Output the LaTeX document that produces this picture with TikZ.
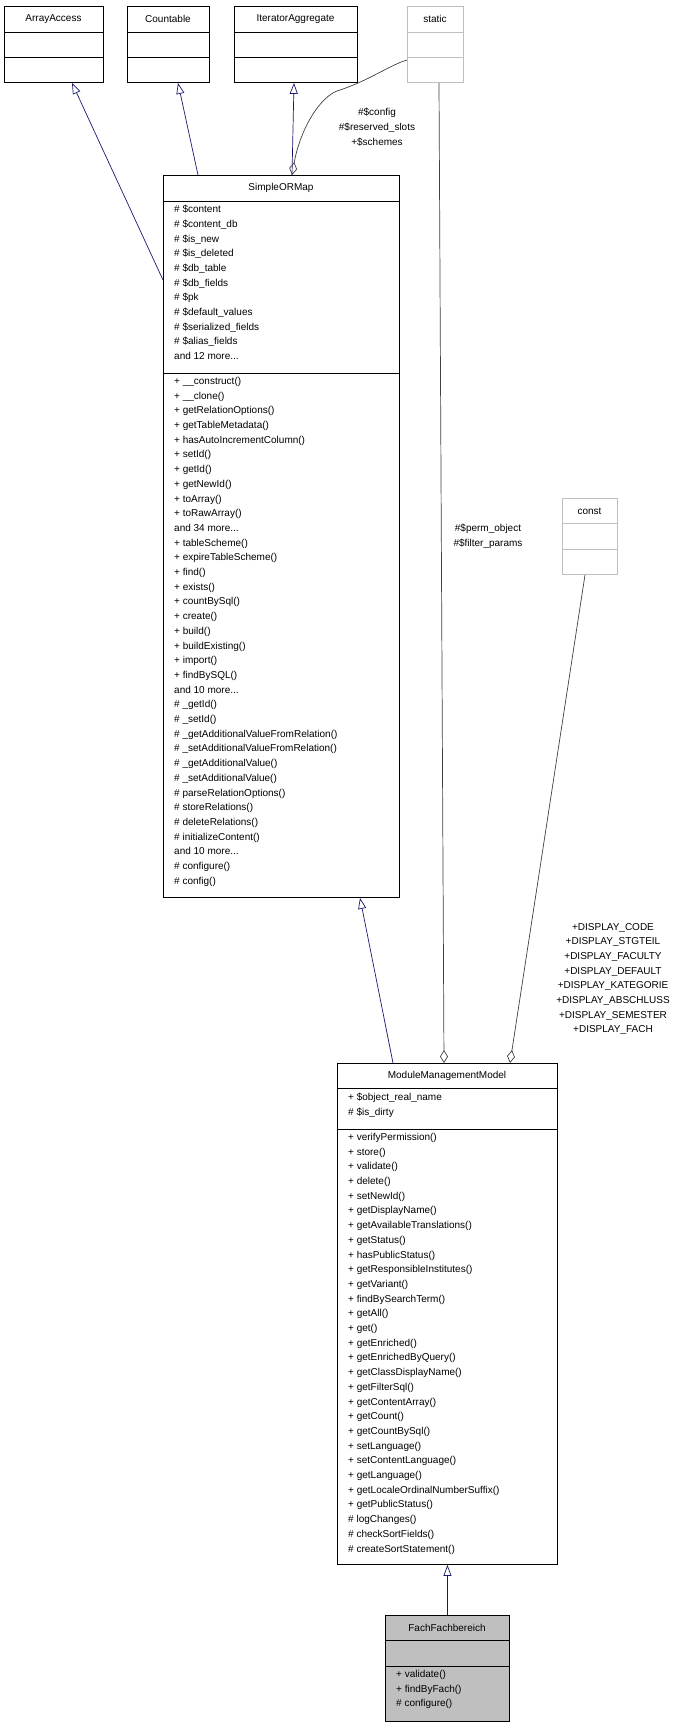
\documentclass[tikz,border=0pt]{standalone}
\usepackage{fontspec}
\setmainfont{Liberation Sans}
\usetikzlibrary{arrows.meta}
\definecolor{inhc}{HTML}{191970}
\definecolor{aggc}{HTML}{404040}
\definecolor{lgray}{HTML}{BFBFBF}
\tikzset{
  box/.style={draw=black, line width=0.9pt, anchor=north west, inner sep=0pt},
  gbox/.style={draw=lgray, line width=0.9pt, anchor=north west, inner sep=0pt},
  txt/.style={anchor=north west, inner sep=0pt, align=left, font=\fontsize{10}{14.7}\selectfont},
  ttl/.style={inner sep=0pt, font=\fontsize{10}{12}\selectfont},
  lbl/.style={inner sep=0pt, align=center, font=\fontsize{10}{14.7}\selectfont},
  inh/.style={draw=inhc, line width=0.7pt, -{Triangle[open,length=11pt,width=8pt]}},
  agg/.style={draw=aggc, line width=0.7pt, {Diamond[open,length=13pt,width=8pt]}-}
}
\begin{document}
\begin{tikzpicture}[x=1pt,y=-1pt]
\useasboundingbox (0,0) rectangle (693,1727);
% top interfaces
\node[box, minimum width=99pt, minimum height=76pt] (aa) at (4,6) {};
\draw (4,32) -- (103,32) (4,57) -- (103,57);
\node[ttl] (aat) at (53.5,19) {ArrayAccess};
\node[box, minimum width=82pt, minimum height=76pt] (cnt) at (127,6) {};
\draw (127,32) -- (209,32) (127,57) -- (209,57);
\node[ttl] (cntt) at (168,19) {Countable};
\node[box, minimum width=123pt, minimum height=76pt] (itr) at (234,6) {};
\draw (234,32) -- (357,32) (234,57) -- (357,57);
\node[ttl] (itrt) at (295.5,19) {IteratorAggregate};
\node[gbox, minimum width=56pt, minimum height=76pt] (stat) at (407,6) {};
\draw[lgray] (407,32) -- (463,32) (407,57) -- (463,57);
\node[ttl] (statt) at (435,19) {static};
\node[gbox, minimum width=55pt, minimum height=76pt] (cst) at (562,498) {};
\draw[lgray] (562,523) -- (617,523) (562,549) -- (617,549);
\node[ttl] (cstt) at (589.5,511) {const};
% SimpleORMap
\node[box, minimum width=236pt, minimum height=722pt] (smo) at (163,175) {};
\draw (163,201) -- (399,201) (163,373) -- (399,373);
\node[ttl] (smot) at (281,188) {SimpleORMap};
\node[txt] (smoa) at (174,205) {\# \$content\\\# \$content\_db\\\# \$is\_new\\\# \$is\_deleted\\\# \$db\_table\\\# \$db\_fields\\\# \$pk\\\# \$default\_values\\\# \$serialized\_fields\\\# \$alias\_fields\\and 12 more...};
\node[txt] (smom) at (174,377) {+ \_\_construct()\\+ \_\_clone()\\+ getRelationOptions()\\+ getTableMetadata()\\+ hasAutoIncrementColumn()\\+ setId()\\+ getId()\\+ getNewId()\\+ toArray()\\+ toRawArray()\\and 34 more...\\+ tableScheme()\\+ expireTableScheme()\\+ find()\\+ exists()\\+ countBySql()\\+ create()\\+ build()\\+ buildExisting()\\+ import()\\+ findBySQL()\\and 10 more...\\\# \_getId()\\\# \_setId()\\\# \_getAdditionalValueFromRelation()\\\# \_setAdditionalValueFromRelation()\\\# \_getAdditionalValue()\\\# \_setAdditionalValue()\\\# parseRelationOptions()\\\# storeRelations()\\\# deleteRelations()\\\# initializeContent()\\and 10 more...\\\# configure()\\\# config()};
% ModuleManagementModel
\node[box, minimum width=220pt, minimum height=501pt] (mmm) at (337,1063) {};
\draw (337,1088) -- (557,1088) (337,1129) -- (557,1129);
\node[ttl] (mmmt) at (447,1075.5) {ModuleManagementModel};
\node[txt] (mmma) at (348,1093) {+ \$object\_real\_name\\\# \$is\_dirty};
\node[txt] (mmmm) at (348,1133) {+ verifyPermission()\\+ store()\\+ validate()\\+ delete()\\+ setNewId()\\+ getDisplayName()\\+ getAvailableTranslations()\\+ getStatus()\\+ hasPublicStatus()\\+ getResponsibleInstitutes()\\+ getVariant()\\+ findBySearchTerm()\\+ getAll()\\+ get()\\+ getEnriched()\\+ getEnrichedByQuery()\\+ getClassDisplayName()\\+ getFilterSql()\\+ getContentArray()\\+ getCount()\\+ getCountBySql()\\+ setLanguage()\\+ setContentLanguage()\\+ getLanguage()\\+ getLocaleOrdinalNumberSuffix()\\+ getPublicStatus()\\\# logChanges()\\\# checkSortFields()\\\# createSortStatement()};
% FachFachbereich
\node[box, fill=lgray, minimum width=124pt, minimum height=106pt] (fach) at (385,1615) {};
\draw (385,1640) -- (509,1640) (385,1666) -- (509,1666);
\node[ttl] (facht) at (447,1627.5) {FachFachbereich};
\node[txt] (fachm) at (396,1670) {+ validate()\\+ findByFach()\\\# configure()};
% inheritance
\draw[inh] ([yshift=-105pt]smo.north west) -- ([xshift=68pt]aa.south west);
\draw[inh] ([xshift=35pt]smo.north west) -- ([xshift=51pt]cnt.south west);
\draw[inh] ([xshift=129pt]smo.north west) -- ([xshift=60pt]itr.south west);
\draw[inh] ([xshift=56pt]mmm.north west) -- ([xshift=197pt]smo.south west);
\draw[inh] (fach.north) -- (mmm.south);
% aggregation
\draw[agg] ([xshift=129pt]smo.north west) .. controls (300,130) and (320,95) .. (340,90) .. controls (370,80) and (390,65) .. ([yshift=-54pt]stat.north west);
\draw[agg] ([xshift=107pt]mmm.north west) -- ([xshift=32pt]stat.south west);
\draw[agg] ([xshift=173pt]mmm.north west) -- ([xshift=23pt]cst.south west);
% labels
\node[lbl] (l1) at (377,127) {\#\$config\\\#\$reserved\_slots\\+\$schemes};
\node[lbl] (l2) at (488,536) {\#\$perm\_object\\\#\$filter\_params};
\node[lbl] (l3) at (613,979) {+DISPLAY\_CODE\\+DISPLAY\_STGTEIL\\+DISPLAY\_FACULTY\\+DISPLAY\_DEFAULT\\+DISPLAY\_KATEGORIE\\+DISPLAY\_ABSCHLUSS\\+DISPLAY\_SEMESTER\\+DISPLAY\_FACH};
\end{tikzpicture}
\end{document}
